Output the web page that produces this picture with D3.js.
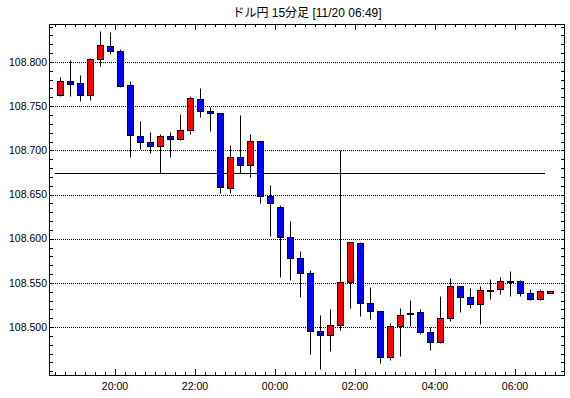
<!DOCTYPE html>
<html>
<head>
<meta charset="utf-8">
<script src="https://cdn.jsdelivr.net/npm/d3@7/dist/d3.min.js"></script>
<style>
body{margin:0;background:#fff;}
svg{display:block;}
</style>
</head>
<body>
<div id="chart"></div>
<script>
// 15 min candles, 11/19 18:30 -> 11/20 06:45
var times = ["18:30","18:45","19:00","19:15","19:30","19:45","20:00","20:15","20:30","20:45",
"21:00","21:15","21:30","21:45","22:00","22:15","22:30","22:45","23:00","23:15","23:30","23:45",
"00:00","00:15","00:30","00:45","01:00","01:15","01:30","01:45","02:00","02:15","02:30","02:45",
"03:00","03:15","03:30","03:45","04:00","04:15","04:30","04:45","05:00","05:15","05:30","05:45",
"06:00","06:15","06:30","06:45"];
var open  = [108.763,108.779,108.776,108.763,108.803,108.818,108.813,108.774,108.716,108.709,
108.705,108.716,108.713,108.723,108.758,108.745,108.742,108.657,108.692,108.683,108.711,108.648,
108.636,108.602,108.578,108.561,108.496,108.491,108.502,108.551,108.595,108.527,108.518,108.466,
108.501,108.516,108.517,108.494,108.483,108.510,108.546,108.534,108.526,108.542,108.543,108.552,
108.552,108.538,108.532,108.539];
var high  = [108.783,108.802,108.785,108.805,108.835,108.834,108.815,108.778,108.733,108.721,
108.718,108.721,108.741,108.762,108.770,108.749,108.742,108.706,108.740,108.718,108.711,108.661,
108.638,108.620,108.586,108.564,108.514,108.520,108.700,108.596,108.596,108.545,108.518,108.504,
108.522,108.531,108.520,108.500,108.535,108.555,108.546,108.544,108.546,108.554,108.557,108.563,
108.553,108.543,108.543,108.541];
var low   = [108.761,108.761,108.756,108.757,108.795,108.809,108.772,108.692,108.702,108.697,
108.674,108.693,108.712,108.718,108.738,108.722,108.652,108.652,108.674,108.670,108.640,108.603,
108.557,108.553,108.534,108.470,108.453,108.473,108.497,108.522,108.512,108.509,108.459,108.463,
108.467,108.501,108.492,108.474,108.482,108.507,108.517,108.521,108.503,108.532,108.537,108.535,
108.535,108.531,108.531,108.539];
var close = [108.778,108.775,108.763,108.803,108.819,108.813,108.773,108.717,108.710,108.705,
108.716,108.713,108.723,108.759,108.745,108.742,108.658,108.692,108.683,108.711,108.648,108.640,
108.602,108.578,108.561,108.496,108.491,108.502,108.551,108.596,108.527,108.518,108.466,108.501,
108.514,108.516,108.494,108.483,108.510,108.546,108.534,108.526,108.542,108.542,108.552,108.552,
108.538,108.532,108.541,108.541];
var yTicks = [108.500,108.550,108.600,108.650,108.700,108.750,108.800];
var refLevel = 108.674;
var title = "ドル円 15分足 [11/20 06:49]";

var W=570,H=398;
var L=49,R=565,T=24,B=375;

function toDate(s){
  var p=s.split(":"),h=+p[0],m=+p[1];
  return h<12 ? new Date(2019,10,20,h,m) : new Date(2019,10,19,h,m);
}
var data = times.map(function(t,i){
  return {t:toDate(t),o:open[i],h:high[i],l:low[i],c:close[i]};
});

var x = d3.scaleTime()
  .domain([new Date(2019,10,19,18,21),new Date(2019,10,20,7,15)])
  .range([L,R]);
var y = d3.scaleLinear().domain([108.4457,108.843]).range([B,T]);

var svg = d3.select("#chart").append("svg").attr("width",W).attr("height",H)
  .style("font-family","'Liberation Sans',Arial,sans-serif");
svg.append("rect").attr("width",W).attr("height",H).attr("fill","#fff");

function py(v){return Math.round(y(v))+0.5;}

// grid
svg.append("g").selectAll("line").data(yTicks).enter().append("line")
  .attr("x1",L).attr("x2",R).attr("y1",function(d){return py(d);}).attr("y2",function(d){return py(d);})
  .attr("stroke","#000").attr("stroke-dasharray","1,1");

// minor ticks
var minorY = d3.range(108.45,108.8401,0.01);
var minorX = d3.timeMinute.every(15).range(x.domain()[0],x.domain()[1]);
var majorX = d3.timeHour.every(2).range(x.domain()[0],x.domain()[1]);
var tk = svg.append("g").attr("stroke","#000");
minorY.forEach(function(v){
  var yy=py(v);
  tk.append("line").attr("x1",L).attr("x2",L+4).attr("y1",yy).attr("y2",yy);
  tk.append("line").attr("x1",R-4).attr("x2",R).attr("y1",yy).attr("y2",yy);
});
minorX.forEach(function(t){
  var xx=Math.round(x(t))+0.5;
  var len = t.getMinutes()==0 && t.getHours()%2==0 ? 6 : 3;
  tk.append("line").attr("x1",xx).attr("x2",xx).attr("y1",B).attr("y2",B-len);
  tk.append("line").attr("x1",xx).attr("x2",xx).attr("y1",T).attr("y2",T+len);
});

// axis labels
svg.append("g").selectAll("text").data(yTicks).enter().append("text")
  .attr("x",L-2).attr("y",function(d){return y(d);}).attr("dy","0.35em")
  .attr("text-anchor","end").attr("font-size","10.5px")
  .text(function(d){return d3.format(".3f")(d);});
svg.append("g").selectAll("text").data(majorX).enter().append("text")
  .attr("x",function(d){return x(d);}).attr("y",390)
  .attr("text-anchor","middle").attr("font-size","10.5px")
  .text(function(d){return d3.timeFormat("%H:%M")(d);});

// reference line
svg.append("line")
  .attr("x1",Math.round(x(data[0].t))).attr("x2",Math.round(x(data[data.length-1].t)))
  .attr("y1",py(refLevel)).attr("y2",py(refLevel))
  .attr("stroke","#000").attr("stroke-width",1);

// candles
var g = svg.append("g");
data.forEach(function(d){
  var cx = Math.round(x(d.t))+5;
  g.append("line").attr("x1",cx+0.5).attr("x2",cx+0.5)
    .attr("y1",py(d.h)).attr("y2",py(d.l)).attr("stroke","#000");
  var top = py(Math.max(d.o,d.c)), bot = py(Math.min(d.o,d.c));
  g.append("rect").attr("x",cx-2.5).attr("width",6)
    .attr("y",top).attr("height",Math.max(bot-top,1))
    .attr("fill", d.c>=d.o ? "#ff0000" : "#0000ff")
    .attr("stroke","#000").attr("stroke-width",1);
});

// frame
svg.append("rect").attr("x",L+0.5).attr("y",T+0.5).attr("width",R-L-1).attr("height",B-T)
  .attr("fill","none").attr("stroke","#000");

svg.append("text").attr("x",(L+R)/2).attr("y",17).attr("text-anchor","middle")
  .attr("font-size","12px").style("font-family","'Liberation Sans','Noto Sans CJK JP',sans-serif")
  .text(title);
</script>
</body>
</html>
